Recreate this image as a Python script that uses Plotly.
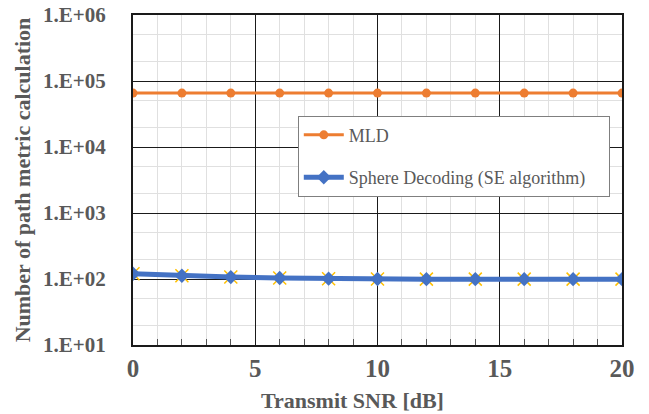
import plotly.graph_objects as go

snr = [0, 2, 4, 6, 8, 10, 12, 14, 16, 18, 20]
mld = [65536] * 11
sd = [120, 112, 107, 103.5, 101, 100, 99.5, 99.5, 99.5, 99.5, 99.5]

x_ticks = [0, 5, 10, 15, 20]
y_tickvals = [10, 100, 1000, 10000, 100000, 1000000]
y_ticktext = ["1.E+01", "1.E+02", "1.E+03", "1.E+04", "1.E+05", "1.E+06"]

FONT = "Liberation Serif"
GRAY = "#595959"
PAD = "\u00a0" * 4

fig = go.Figure()
fig.add_trace(go.Scatter(
    x=snr, y=mld, name="MLD", mode="lines+markers",
    line=dict(color="#ED7D31", width=3),
    marker=dict(symbol="circle", size=9, color="#ED7D31"),
    legendgroup="a",
))
fig.add_trace(go.Scatter(
    x=snr, y=sd, name="sd_x", mode="markers", showlegend=False,
    marker=dict(symbol="x-thin", size=13, line=dict(color="#FFC000", width=1.5)),
    hoverinfo="skip",
))
fig.add_trace(go.Scatter(
    x=snr, y=sd, name="Sphere Decoding (SE algorithm)" + PAD, mode="lines+markers",
    line=dict(color="#4472C4", width=5),
    marker=dict(symbol="diamond", size=11, color="#4472C4"),
    legendgroup="b",
))

fig.update_layout(
    width=649, height=414,
    margin=dict(l=133, r=27, t=15, b=69),
    plot_bgcolor="white", paper_bgcolor="white",
    font=dict(family=FONT, color=GRAY),
    legend=dict(
        x=0.337, y=0.695, xanchor="left", yanchor="top",
        bgcolor="white", bordercolor="#7f7f7f", borderwidth=1,
        font=dict(family=FONT, size=18, color=GRAY),
        traceorder="grouped", tracegroupgap=16,
        itemwidth=40,
    ),
    annotations=[dict(
        text="<b>Transmit SNR [dB]</b>", xref="paper", yref="paper",
        x=(352 - 133) / 489, y=-(400 - 345) / 330, xanchor="center", yanchor="middle",
        showarrow=False, font=dict(family=FONT, size=22, color=GRAY),
    )],
)
fig.update_xaxes(
    range=[0, 20], tickvals=x_ticks, automargin=False,
    showgrid=True, gridcolor="#1a1a1a", gridwidth=1,
    showline=True, linecolor="#1a1a1a", linewidth=2, mirror=True,
    ticks="inside", ticklen=6, tickcolor="#1a1a1a",
    minor=dict(dtick=1, showgrid=True, gridcolor="#e0e0e0", ticks="inside", ticklen=6, tickcolor="#555"),
    tickfont=dict(family=FONT, size=25, color=GRAY, weight="bold"),
    zeroline=False,
)
fig.update_yaxes(
    type="log", range=[1, 6], tickvals=y_tickvals, ticktext=y_ticktext, automargin=False,
    showgrid=True, gridcolor="#1a1a1a", gridwidth=1,
    showline=True, linecolor="#1a1a1a", linewidth=2, mirror=True,
    ticks="", ticklabelstandoff=21,
    minor=dict(showgrid=True, gridcolor="#e0e0e0"),
    tickfont=dict(family=FONT, size=21, color=GRAY, weight="bold"),
    title=dict(text="<b>Number of path metric calculation</b>", font=dict(family=FONT, size=22, color=GRAY), standoff=6),
    zeroline=False,
)

fig.write_html("out.html")
